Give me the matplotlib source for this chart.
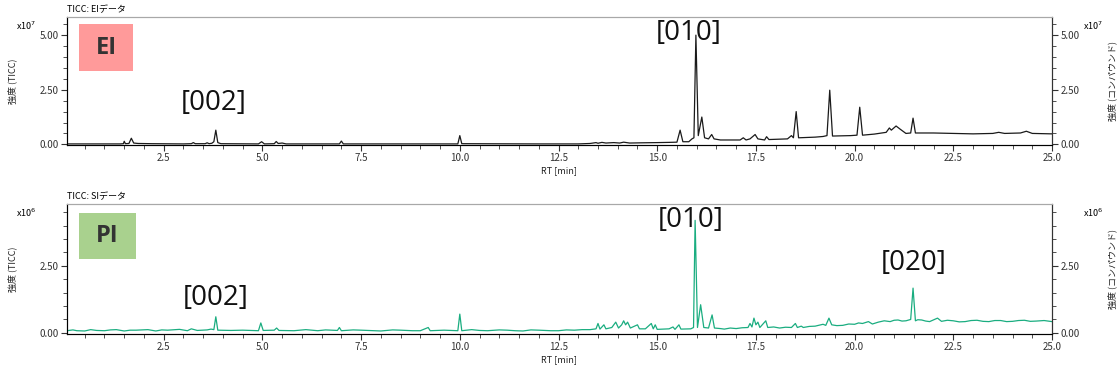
import matplotlib
matplotlib.use("Agg")
import matplotlib.pyplot as plt
from matplotlib.patches import Rectangle
from matplotlib.ticker import MultipleLocator, FormatStrFormatter

plt.rcParams['font.family'] = ['Noto Sans CJK JP', 'DejaVu Sans']

# EI trace, intensity in units of 1e7
ei_rt = [0.05, 1.40, 1.48, 1.50, 1.53, 1.62, 1.68, 1.74, 1.85, 2.2, 3.0, 3.2, 3.25, 3.3,
         3.55, 3.6, 3.65, 3.72, 3.77, 3.82, 3.87, 3.95, 4.9, 4.98, 5.05, 5.3, 5.35, 5.4,
         5.5, 5.6, 6.95, 7.0, 7.05, 9.95, 10.0, 10.05, 12.0, 13.0, 13.3, 13.45, 13.5,
         13.6, 13.7, 13.9, 14.05, 14.15, 14.3, 14.6, 15.0, 15.3, 15.5, 15.58, 15.65, 15.8,
         15.88, 15.93, 15.98, 16.04, 16.13, 16.2, 16.3, 16.38, 16.44, 16.6, 17.1, 17.18,
         17.25, 17.35, 17.48, 17.55, 17.72, 17.77, 17.83, 18.3, 18.4, 18.45, 18.52, 18.58,
         19.0, 19.2, 19.3, 19.37, 19.44, 19.9, 20.06, 20.13, 20.2, 20.5, 20.8, 20.88,
         20.93, 21.05, 21.15, 21.3, 21.42, 21.48, 21.54, 22.0, 22.5, 23.0, 23.5, 23.65,
         23.8, 24.2, 24.35, 24.5, 25.0]
ei_int = [0.02, 0.02, 0.03, 0.14, 0.03, 0.04, 0.28, 0.06, 0.04, 0.03, 0.02, 0.03, 0.08, 0.03,
          0.03, 0.07, 0.03, 0.05, 0.12, 0.65, 0.08, 0.03, 0.02, 0.12, 0.02, 0.03, 0.13, 0.04,
          0.06, 0.02, 0.02, 0.15, 0.02, 0.02, 0.40, 0.03, 0.02, 0.02, 0.04, 0.08, 0.05,
          0.09, 0.06, 0.08, 0.06, 0.10, 0.06, 0.07, 0.08, 0.09, 0.10, 0.65, 0.12, 0.12,
          0.25, 0.30, 5.00, 0.40, 1.25, 0.30, 0.25, 0.45, 0.25, 0.20, 0.20, 0.30,
          0.20, 0.25, 0.45, 0.25, 0.20, 0.35, 0.22, 0.25, 0.40, 0.30, 1.50, 0.30,
          0.33, 0.36, 0.40, 2.48, 0.38, 0.40, 0.42, 1.70, 0.42, 0.47, 0.55, 0.75,
          0.65, 0.84, 0.70, 0.50, 0.52, 1.20, 0.52, 0.52, 0.50, 0.48, 0.50, 0.55,
          0.50, 0.52, 0.60, 0.50, 0.48]

# PI trace, intensity in units of 1e6
pi_rt = [0.05, 0.2, 0.3, 0.5, 0.65, 0.8, 1.0, 1.15, 1.3, 1.5, 1.65, 1.8, 2.1, 2.3, 2.45, 2.6,
         2.9, 3.1, 3.2, 3.35, 3.6, 3.7, 3.77, 3.82, 3.87, 4.2, 4.5, 4.9, 4.96, 5.02, 5.3,
         5.36, 5.42, 5.8, 6.1, 6.4, 6.6, 6.9, 6.95, 7.0, 7.3, 7.5, 7.8, 8.0, 8.3, 8.5, 8.8,
         9.0, 9.2, 9.25, 9.6, 9.95, 10.0, 10.05, 10.3, 10.5, 10.7, 11.0, 11.2, 11.4, 11.6,
         11.8, 12.0, 12.3, 12.5, 12.7, 12.9, 13.1, 13.3, 13.45, 13.5, 13.55, 13.65, 13.7,
         13.85, 13.95, 14.02, 14.1, 14.15, 14.2, 14.25, 14.32, 14.5, 14.55, 14.7, 14.85,
         14.9, 14.95, 15.0, 15.3, 15.4, 15.45, 15.55, 15.6, 15.85, 15.92, 15.96, 16.02,
         16.1, 16.18, 16.3, 16.39, 16.45, 16.6, 16.7, 16.85, 17.0, 17.15, 17.3, 17.35,
         17.4, 17.45, 17.5, 17.55, 17.6, 17.75, 17.8, 17.95, 18.1, 18.25, 18.4, 18.5,
         18.55, 18.65, 18.7, 18.85, 19.0, 19.2, 19.27, 19.35, 19.42, 19.55, 19.7, 19.85,
         20.0, 20.1, 20.2, 20.35, 20.45, 20.6, 20.75, 20.9, 21.0, 21.1, 21.2, 21.3, 21.42,
         21.48, 21.54, 21.6, 21.7, 21.8, 21.9, 22.1, 22.2, 22.35, 22.5, 22.65, 22.8, 22.95,
         23.1, 23.25, 23.4, 23.55, 23.7, 23.85, 24.0, 24.15, 24.3, 24.45, 24.6, 24.8, 25.0]
pi_int = [0.08, 0.11, 0.08, 0.07, 0.12, 0.09, 0.08, 0.11, 0.12, 0.07, 0.10, 0.10, 0.12, 0.07,
          0.11, 0.10, 0.13, 0.08, 0.15, 0.09, 0.11, 0.14, 0.12, 0.60, 0.10, 0.09, 0.10, 0.08,
          0.37, 0.09, 0.10, 0.18, 0.09, 0.08, 0.12, 0.08, 0.11, 0.09, 0.20, 0.08, 0.11, 0.10,
          0.08, 0.07, 0.11, 0.10, 0.08, 0.08, 0.20, 0.08, 0.10, 0.08, 0.70, 0.08, 0.12, 0.09,
          0.08, 0.11, 0.10, 0.08, 0.07, 0.11, 0.10, 0.08, 0.08, 0.11, 0.10, 0.12, 0.12, 0.15,
          0.35, 0.14, 0.30, 0.15, 0.20, 0.40, 0.18, 0.30, 0.45, 0.30, 0.40, 0.18, 0.30, 0.15,
          0.15, 0.35, 0.15, 0.30, 0.13, 0.15, 0.22, 0.13, 0.30, 0.14, 0.15, 0.20, 4.20, 0.20,
          1.05, 0.20, 0.18, 0.67, 0.18, 0.16, 0.14, 0.18, 0.16, 0.19, 0.20, 0.35, 0.22, 0.55,
          0.30, 0.40, 0.20, 0.45, 0.20, 0.22, 0.18, 0.21, 0.20, 0.35, 0.20, 0.25, 0.20, 0.24,
          0.25, 0.32, 0.28, 0.55, 0.30, 0.27, 0.28, 0.33, 0.32, 0.37, 0.35, 0.42, 0.33, 0.40,
          0.45, 0.42, 0.47, 0.48, 0.44, 0.45, 0.50, 1.67, 0.45, 0.49, 0.48, 0.44, 0.42, 0.55,
          0.43, 0.47, 0.45, 0.41, 0.42, 0.46, 0.47, 0.43, 0.42, 0.46, 0.46, 0.42, 0.43, 0.46,
          0.47, 0.43, 0.44, 0.46, 0.42]

x_ticks = [2.5, 5.0, 7.5, 10.0, 12.5, 15.0, 17.5, 20.0, 22.5, 25.0]


def style_panel(ax, ymax, yticks, title, exp):
    ax.set_xlim(0.05, 25.0)
    ax.set_ylim(-0.03 * ymax / 5.8, ymax)
    ax.set_xticks(x_ticks)
    ax.xaxis.set_major_formatter(FormatStrFormatter('%.1f'))
    ax.xaxis.set_minor_locator(MultipleLocator(0.5))
    ax.set_yticks(yticks)
    ax.yaxis.set_major_formatter(FormatStrFormatter('%.2f'))
    ax.yaxis.set_minor_locator(MultipleLocator(0.5))
    ax.tick_params(which='both', direction='out', labelsize=7, colors='#333333', pad=2)
    ax.tick_params(which='major', length=4)
    ax.tick_params(which='minor', length=3)
    ax.set_xlabel('RT [min]', fontsize=6.5, labelpad=2, color='#222222')
    for s in ['left', 'bottom', 'right']:
        ax.spines[s].set_color('#333333')
    ax.spines['top'].set_color('#a8a8a8')
    ax.text(0.0, 1.02, title, transform=ax.transAxes, fontsize=6.5, va='bottom', ha='left')

    axr = ax.twinx()
    axr.set_ylim(ax.get_ylim())
    axr.set_yticks(yticks)
    axr.yaxis.set_major_formatter(FormatStrFormatter('%.2f'))
    axr.yaxis.set_minor_locator(MultipleLocator(0.5))
    axr.tick_params(which='both', direction='out', labelsize=7, colors='#333333', pad=2)
    axr.tick_params(which='major', length=4)
    axr.tick_params(which='minor', length=3)
    axr.spines['right'].set_color('#333333')
    axr.spines['top'].set_color('#a8a8a8')

    # axis labels placed in figure pixels so they sit where the reference has them
    bb = ax.get_position()
    yc = (bb.y0 + bb.y1) / 2
    fig.text(12 / 1120, yc, '強度 (TICC)', rotation=90, fontsize=6.5, ha='center',
             va='center', color='#222222')
    fig.text(1112 / 1120, yc, '強度 (コンパウンド)', rotation=90, fontsize=6.5,
             ha='center', va='center', color='#222222')
    ax.text(-0.052, 0.9, 'x10$^{%d}$' % exp, transform=ax.transAxes, fontsize=6.5, ha='left')
    axr.text(1.031, 0.9, 'x10$^{%d}$' % exp, transform=ax.transAxes, fontsize=6.5, ha='left')


fig = plt.figure(figsize=(11.2, 3.79), dpi=100)
ax1 = fig.add_axes([0.0598, 0.6174, 0.8795, 0.3377])
ax2 = fig.add_axes([0.0598, 0.1200, 0.8795, 0.3417])

ax1.plot(ei_rt, ei_int, color='#1a1a1a', lw=0.9)
ax2.plot(pi_rt, pi_int, color='#1aad80', lw=0.9)

style_panel(ax1, 5.83, [0.0, 2.5, 5.0], 'TICC: EIデータ', 7)
style_panel(ax2, 4.81, [0.0, 2.5], 'TICC: SIデータ', 6)

# mode boxes
ax1.add_patch(Rectangle((0.0122, 0.578), 0.0548, 0.367, transform=ax1.transAxes,
                        facecolor='#ff9a9a', edgecolor='none', zorder=3))
ax1.text(0.0122 + 0.0274, 0.578 + 0.1835, 'EI', transform=ax1.transAxes, fontsize=17,
         fontweight='bold', color='#333333', ha='center', va='center', zorder=4,
         family=['Open Sans', 'DejaVu Sans'])
ax2.add_patch(Rectangle((0.0122, 0.575), 0.058, 0.355, transform=ax2.transAxes,
                        facecolor='#a9d18e', edgecolor='none', zorder=3))
ax2.text(0.0122 + 0.029, 0.575 + 0.1775, 'PI', transform=ax2.transAxes, fontsize=17,
         fontweight='bold', color='#333333', ha='center', va='center', zorder=4,
         family=['Open Sans', 'DejaVu Sans'])

# peak labels
lab_font = dict(fontsize=20, color='#111111', ha='center', va='center',
                family=['Open Sans', 'DejaVu Sans'])
ax1.text(3.77, 1.89, '[002]', **lab_font)
ax1.text(15.8, 5.1, '[010]', **lab_font)
ax2.text(3.82, 1.31, '[002]', **lab_font)
ax2.text(15.85, 4.22, '[010]', **lab_font)
ax2.text(21.5, 2.61, '[020]', **lab_font)

fig.savefig('out.png', dpi=100)
